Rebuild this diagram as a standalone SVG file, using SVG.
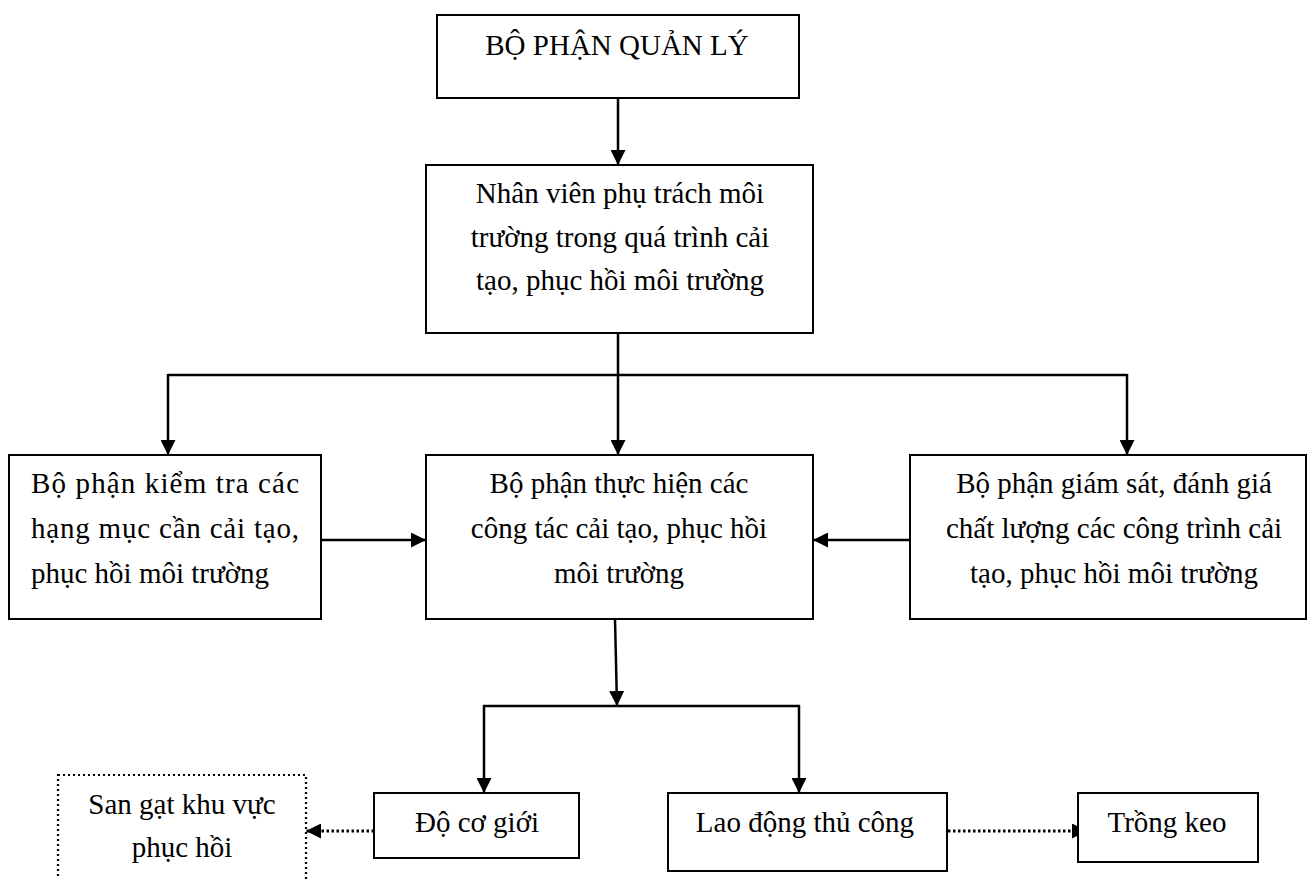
<svg xmlns="http://www.w3.org/2000/svg" width="1308" height="879" viewBox="0 0 1308 879">
<style>
.box{fill:#fff;stroke:#000;stroke-width:2}
.dbox{fill:#fff;stroke:#000;stroke-width:2.2;stroke-dasharray:2 3}
text{font-family:'Liberation Serif','Times New Roman',Times,serif;font-size:29px;fill:#000}
.c{text-anchor:middle}
.ln{fill:none;stroke:#000;stroke-width:2.5}
.dl{fill:none;stroke:#000;stroke-width:2.8;stroke-dasharray:2.5 2.5}
</style>
<defs>
<marker id="ah" markerWidth="15" markerHeight="15" viewBox="0 0 15 15" refX="15" refY="7.5" orient="auto" markerUnits="userSpaceOnUse">
<path d="M0,0 L15,7.5 L0,15 Z" fill="#000"/>
</marker>
</defs>
<rect width="1308" height="879" fill="#fff"/>
<g id="connectors">
<path class="ln" d="M618,98 L618,165" marker-end="url(#ah)"/>
<path class="ln" d="M618,333 L618,375"/>
<path class="ln" d="M168,375 L1127,375"/>
<path class="ln" d="M168,374 L168,455" marker-end="url(#ah)"/>
<path class="ln" d="M618,374 L618,455" marker-end="url(#ah)"/>
<path class="ln" d="M1127,374 L1127,455" marker-end="url(#ah)"/>
<path class="ln" d="M321,540 L426,540" marker-end="url(#ah)"/>
<path class="ln" d="M910,540 L813,540" marker-end="url(#ah)"/>
<path class="ln" d="M615,619 L617,706" marker-end="url(#ah)"/>
<path class="ln" d="M483,706 L800,706"/>
<path class="ln" d="M484,705 L484,793" marker-end="url(#ah)"/>
<path class="ln" d="M799,705 L799,793" marker-end="url(#ah)"/>
<path class="dl" d="M374,831 L306,831" marker-end="url(#ah)"/>
<path class="dl" d="M948,831 L1087,831" marker-end="url(#ah)"/>
</g>
<g font-family="Liberation Serif, Times New Roman, serif" font-size="29">
<g id="n-quanly">
<rect class="box" x="437" y="15" width="362" height="83"/>
<text class="c" x="617" y="55">BỘ PHẬN QUẢN LÝ</text>
</g>
<g id="n-nhanvien">
<rect class="box" x="426" y="165" width="387" height="168"/>
<text class="c" x="620" y="203">Nhân viên phụ trách môi</text>
<text class="c" x="620" y="247">trường trong quá trình cải</text>
<text class="c" x="620" y="290">tạo, phục hồi môi trường</text>
</g>
<g id="n-kiemtra">
<rect class="box" x="9" y="455" width="312" height="164"/>
<text x="31" y="493" textLength="268" lengthAdjust="spacing">Bộ phận kiểm tra các</text>
<text x="31" y="538" textLength="268" lengthAdjust="spacing">hạng mục cần cải tạo,</text>
<text x="31" y="583">phục hồi môi trường</text>
</g>
<g id="n-thuchien">
<rect class="box" x="426" y="455" width="387" height="164"/>
<text class="c" x="619" y="493">Bộ phận thực hiện các</text>
<text class="c" x="619" y="538">công tác cải tạo, phục hồi</text>
<text class="c" x="619" y="583">môi trường</text>
</g>
<g id="n-giamsat">
<rect class="box" x="910" y="455" width="396" height="164"/>
<text class="c" x="1114" y="493">Bộ phận giám sát, đánh giá</text>
<text class="c" x="1114" y="538">chất lượng các công trình cải</text>
<text class="c" x="1114" y="583">tạo, phục hồi môi trường</text>
</g>
<g id="n-cogioi">
<rect class="box" x="374" y="793" width="205" height="65"/>
<text class="c" x="477" y="832">Độ cơ giới</text>
</g>
<g id="n-laodong">
<rect class="box" x="668" y="793" width="279" height="78"/>
<text class="c" x="805" y="832">Lao động thủ công</text>
</g>
<g id="n-trongkeo">
<rect class="box" x="1078" y="793" width="180" height="69"/>
<text class="c" x="1167" y="832">Trồng keo</text>
</g>
<g id="n-sangat">
<rect class="dbox" x="58" y="775" width="248" height="140"/>
<text class="c" x="182" y="814">San gạt khu vực</text>
<text class="c" x="182" y="857">phục hồi</text>
</g>
</g>
</svg>
